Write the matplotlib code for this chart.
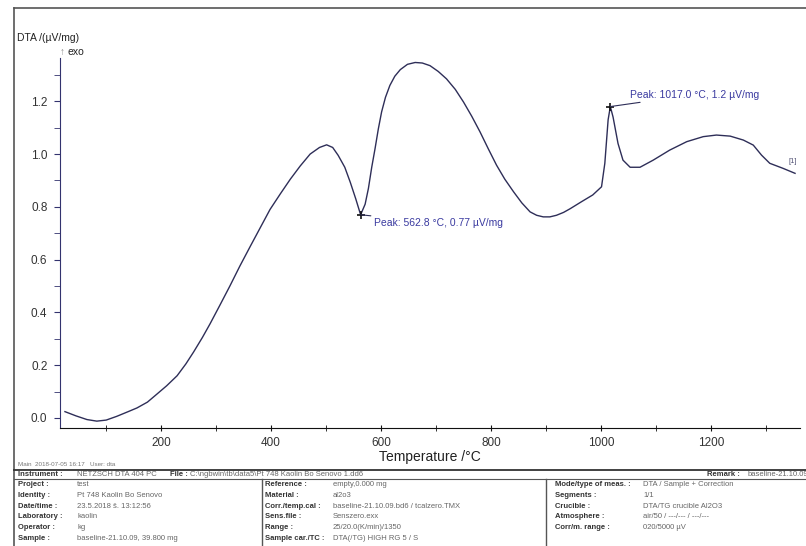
import matplotlib.pyplot as plt
from matplotlib.ticker import MultipleLocator
from matplotlib.lines import Line2D

plt.rcParams['font.family'] = ['Liberation Sans', 'DejaVu Sans']

# DTA curve
temp = [25, 45, 65, 83, 100, 119, 140, 156, 175, 192, 210, 229, 245, 259, 275, 289, 307,
        325, 343, 362, 380, 398, 417, 435, 453, 471, 488, 501, 512, 522, 534, 544, 554,
        562.8, 571, 577, 583, 589, 595, 601, 608, 616, 625, 635, 648, 662, 675, 689, 704,
        719, 735, 750, 765, 780, 795, 810, 825, 841, 856, 871, 883, 895, 907, 919, 932,
        944, 965, 985, 1001, 1007, 1013, 1017, 1022, 1031, 1040, 1053, 1071,
        1095, 1125, 1156, 1186, 1210, 1235, 1259, 1277, 1292, 1307, 1331, 1353]
dta = [0.024, 0.008, -0.006, -0.012, -0.008, 0.006, 0.024, 0.038, 0.06, 0.09, 0.122, 0.16,
       0.205, 0.25, 0.305, 0.357, 0.428, 0.50, 0.575, 0.65, 0.72, 0.79, 0.85, 0.905, 0.955,
       1.0, 1.025, 1.035, 1.025, 0.995, 0.95, 0.893, 0.83, 0.77, 0.81, 0.87, 0.95, 1.02,
       1.095, 1.16, 1.215, 1.26, 1.295, 1.32, 1.34, 1.347, 1.345, 1.335, 1.313,
       1.285, 1.245, 1.197, 1.143, 1.084, 1.02, 0.958, 0.905, 0.857, 0.815, 0.781, 0.768,
       0.762, 0.762, 0.768, 0.779, 0.793, 0.82, 0.845, 0.876, 0.965, 1.13, 1.18, 1.14,
       1.04, 0.977, 0.95, 0.95, 0.977, 1.015, 1.047, 1.066, 1.072, 1.068, 1.053, 1.034,
       0.996, 0.965, 0.946, 0.927]

peaks_t = [562.8, 1017.0]
peaks_v = [0.77, 1.18]
peak_labels = ['Peak: 562.8 °C, 0.77 µV/mg', 'Peak: 1017.0 °C, 1.2 µV/mg']
peak_offsets = [(13, -8), (20, 12)]

xticks = [200, 400, 600, 800, 1000, 1200]
yticks = [0.0, 0.2, 0.4, 0.6, 0.8, 1.0, 1.2]

col1 = [('Project :', 'test'), ('Identity :', 'Pt 748 Kaolin Bo Senovo'),
        ('Date/time :', '23.5.2018 \u0161. 13:12:56'), ('Laboratory :', 'kaolin'),
        ('Operator :', 'kg'), ('Sample :', 'baseline-21.10.09, 39.800 mg')]
col2 = [('Reference :', 'empty,0.000 mg'), ('Material :', 'al2o3'),
        ('Corr./temp.cal :', 'baseline-21.10.09.bd6 / tcalzero.TMX'),
        ('Sens.file :', 'Senszero.exx'), ('Range :', '25/20.0(K/min)/1350'),
        ('Sample car./TC :', 'DTA(/TG) HIGH RG 5 / S')]
col3 = [('Mode/type of meas. :', 'DTA / Sample + Correction'), ('Segments :', '1/1'),
        ('Crucible :', 'DTA/TG crucible Al2O3'), ('Atmosphere :', 'air/50 / ---/--- / ---/---'),
        ('Corr/m. range :', '020/5000 µV')]

W, H = 806, 546
fig = plt.figure(figsize=(W / 100, H / 100), dpi=100)


def fx(px):
    return px / W


def fy(py):
    return 1 - py / H


ax = fig.add_axes([fx(60), fy(428), fx(800) - fx(60), fy(58) - fy(428)])
ax.plot(temp, dta, color='#2e2e58', lw=1.0)
ax.plot(peaks_t, peaks_v, ls='none', marker='+', color='#111111', ms=6, mew=1.2)

for t, v, lab, off in zip(peaks_t, peaks_v, peak_labels, peak_offsets):
    ax.annotate(lab, xy=(t, v), xytext=off, textcoords='offset pixels',
                fontsize=7.5, color='#3a3aa0', va='center', ha='left',
                arrowprops=dict(arrowstyle='-', color='#2e2e58', lw=0.8, shrinkA=0, shrinkB=0))

ax.text(temp[-1] - 4, dta[-1] + 0.04, '[1]', fontsize=5.5, color='#555577', ha='center')

ax.set_xlim(16, 1362)
ax.set_ylim(-0.038, 1.364)
ax.set_xticks(xticks)
ax.set_yticks(yticks)
ax.set_yticklabels([f'{v:.1f}' for v in yticks])
ax.xaxis.set_minor_locator(MultipleLocator(100))
ax.yaxis.set_minor_locator(MultipleLocator(0.1))
for s in ['top', 'right']:
    ax.spines[s].set_visible(False)
ax.spines['left'].set_color('#33336e')
ax.spines['bottom'].set_color('#111111')
ax.tick_params(axis='y', which='both', direction='out', length=4, color='#33336e',
               labelsize=8.5, labelcolor='#333333', pad=5)
ax.tick_params(axis='x', which='both', direction='inout', length=5, color='#111111',
               labelsize=8.5, labelcolor='#333333', pad=4)
ax.set_xlabel('Temperature /°C', fontsize=10, color='#222222', labelpad=1)

fig.text(fx(17), fy(38), 'DTA /(µV/mg)', fontsize=7.5, color='#222222', va='center')
fig.text(fx(60), fy(52), '\u2191', fontsize=7, color='#888888', va='center')
fig.text(fx(67), fy(52), 'exo', fontsize=7.5, color='#222222', va='center')


# frame and info table
def hline(py, x0=14, x1=806, lw=1.0, c='#555555'):
    fig.add_artist(Line2D([fx(x0), fx(x1)], [fy(py), fy(py)], lw=lw, color=c))


def vline(px, y0, y1=546, lw=1.0, c='#555555'):
    fig.add_artist(Line2D([fx(px), fx(px)], [fy(y0), fy(y1)], lw=lw, color=c))


hline(8, lw=1.2)
vline(14, 8, lw=1.2)
hline(470, lw=1.3, c='#333333')
hline(479, lw=0.8)
vline(262, 479)
vline(546, 479)

fig.text(fx(18), fy(464), 'Main  2018-07-05 16:17   User: dta', fontsize=4.5, color='#777777', va='center')
fig.text(fx(18), fy(474.5), 'Instrument :', fontsize=5.5, weight='bold', color='#333333', va='center')
fig.text(fx(77), fy(474.5), 'NETZSCH DTA 404 PC', fontsize=5.5, color='#666666', va='center')
fig.text(fx(170), fy(474.5), 'File :', fontsize=5.5, weight='bold', color='#333333', va='center')
fig.text(fx(190), fy(474.5), 'C:\\ngbwin\\tb\\data5\\Pt 748 Kaolin Bo Senovo 1.dd6',
         fontsize=5.5, color='#666666', va='center')
fig.text(fx(707), fy(474.5), 'Remark :', fontsize=5.5, weight='bold', color='#333333', va='center')
fig.text(fx(748), fy(474.5), 'baseline-21.10.09', fontsize=5.5, color='#666666', va='center')

for cols, xl, xv in [(col1, 18, 77), (col2, 265, 333), (col3, 555, 643)]:
    for i, (lab, val) in enumerate(cols):
        y = 485 + i * 10.6
        fig.text(fx(xl), fy(y), lab, fontsize=5.5, weight='bold', color='#333333', va='center')
        fig.text(fx(xv), fy(y), val, fontsize=5.5, color='#666666', va='center')

fig.savefig('out.png', dpi=100)
